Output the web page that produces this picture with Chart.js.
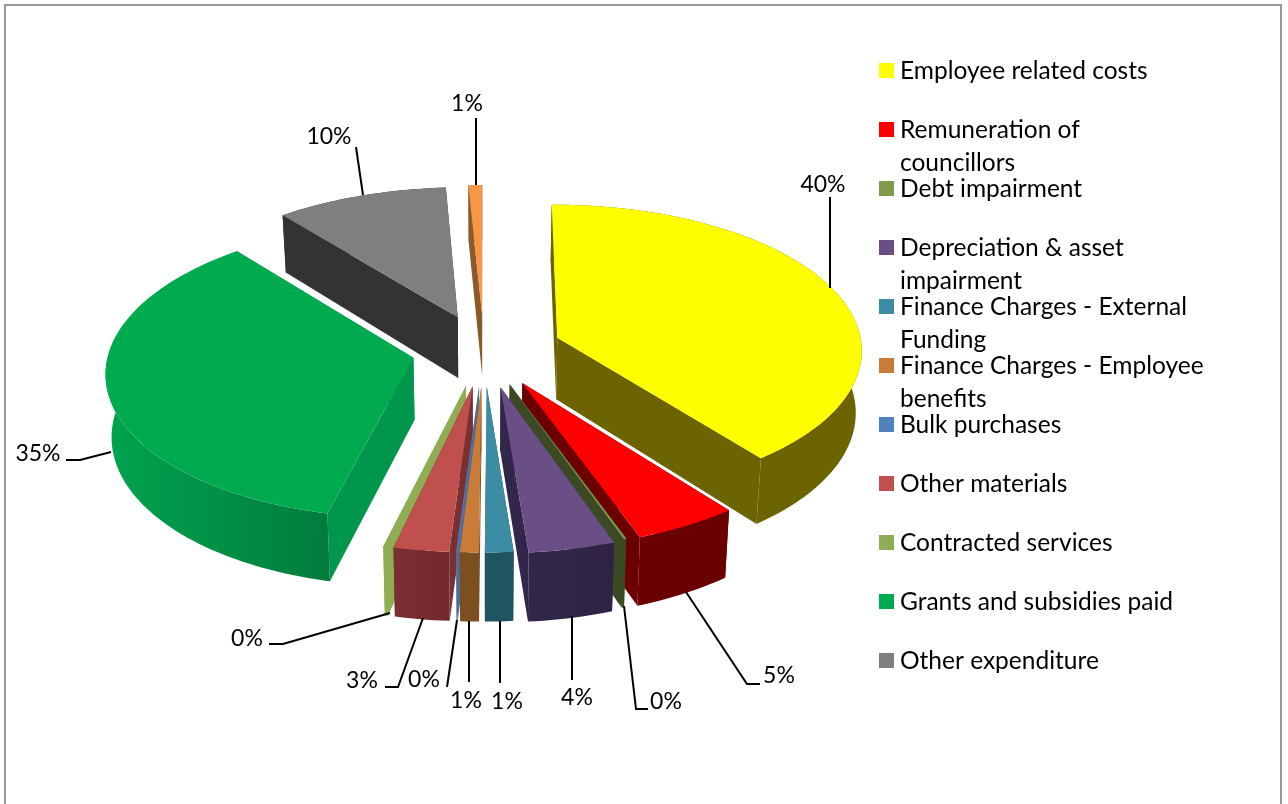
<!DOCTYPE html>
<html>
<head>
<meta charset="utf-8">
<title>Operating expenditure by type</title>
<script src="https://cdn.jsdelivr.net/npm/chart.js@4"></script>
<style>
  html, body { margin: 0; padding: 0; background: #fff; overflow: hidden; }
  canvas { display: block; }
</style>
</head>
<body>
<canvas id="pie" width="1288" height="804"></canvas>
<script>
// Expenditure categories, listed clockwise from twelve o'clock.
const categories = [
  'Employee related costs',
  ['Remuneration of', 'councillors'],
  'Debt impairment',
  ['Depreciation & asset', 'impairment'],
  ['Finance Charges - External', 'Funding'],
  ['Finance Charges - Employee', 'benefits'],
  'Bulk purchases',
  'Other materials',
  'Contracted services',
  'Grants and subsidies paid',
  'Other expenditure',
  ''
];
const shares = [39.5, 5.0, 0.12, 4.13, 1.35, 0.9, 0.05, 2.65, 0.15, 35.35, 10.0, 0.8];
const explode = [78, 78, 75, 78, 75, 75, 75, 75, 75, 72, 75, 75];
const topColors = ['#FFFF00', '#FF0000', '#7F9A48', '#6A4F87', '#3C8DA3', '#C97C39', '#4F81BD', '#C0504D', '#8FAE53', '#00AB50', '#7F7F7F', '#F79646'];
const wallColors = ['#6B6400', '#6B0000', '#3C4A24', '#32264A', '#1E5560', '#7D4E1F', '#4A6E9E', '#7A2F30', '#8FAE53', '#00964B', '#333333', '#8A5A2C'];
const rimStart = ['#6B6400', '#6B0000', '#3C4A24', '#32264A', '#1E5560', '#7D4E1F', '#4A6E9E', '#7A3033', '#8FAE53', '#00A24F', '#333333', '#8A5A2C'];
const rimEnd = ['#6B6400', '#6B0000', '#3C4A24', '#2E2344', '#1E5560', '#7D4E1F', '#4A6E9E', '#73292C', '#8FAE53', '#007C3C', '#333333', '#8A5A2C'];

// Pixel layout of the value labels: text centre, then the leader line.
const labelLayout = [
  { text: [823, 185], leader: [[830, 197], [830, 288]] },
  { text: [779, 676], leader: [[686, 592], [747, 684], [760, 684]] },
  { text: [666, 702], leader: [[624, 606], [636, 709], [648, 709]] },
  { text: [577, 698], leader: [[572, 616], [572, 680]] },
  { text: [507, 702], leader: [[500, 621], [500, 683]] },
  { text: [466, 701], leader: [[469, 621], [469, 682]] },
  { text: [424, 680], leader: [[457, 620], [447, 687]] },
  { text: [362, 681], leader: [[423, 618], [398, 687], [385, 687]] },
  { text: [247, 639], leader: [[390, 613], [283, 644], [269, 644]] },
  { text: [38, 454],  leader: [[111, 452], [80, 460], [66, 460]] },
  { text: [329, 137], leader: [[356, 147], [363, 195]] },
  { text: [467, 104], leader: [[476, 118], [476, 185]] }
];

const VALUE_FONT = '23px Lato, "Open Sans", sans-serif';
const LEGEND_FONT = '24.5px Lato, "Open Sans", sans-serif';
const legendBox = { x: 879, y: 63, size: 15, textX: 900, rowStep: 59, lineStep: 33 };

// Camera used to lay the flat pie onto a tilted, slightly foreshortened table.
const camera = { tilt: 0.478, distance: 3690, roll: 0.005, thickness: 62, taper: 0.016 };

function project(arc, gx, gy, lower) {
  const s = 1 / (1 - gy / camera.distance);
  const x = gx * s * (lower ? 1 - camera.taper : 1);
  const y = camera.tilt * gy * s - camera.roll * gx * s + (lower ? camera.thickness * s : 0);
  return [arc.x + x, arc.y + y];
}

function tracePolygon(ctx, pts) {
  ctx.beginPath();
  pts.forEach((p, i) => (i ? ctx.lineTo(p[0], p[1]) : ctx.moveTo(p[0], p[1])));
  ctx.closePath();
}

// A pie slice drawn as a solid wedge, built from the angles Chart.js computed.
class SolidArc extends Chart.ArcElement {
  static id = 'solidArc';
  draw(ctx) {
    const { startAngle, endAngle, outerRadius, options } = this;
    const mid = (startAngle + endAngle) / 2;
    const ox = Math.cos(mid) * options.offset;
    const oy = Math.sin(mid) * options.offset;
    const steps = Math.max(3, Math.ceil((endAngle - startAngle) * 40));
    const rimTop = [];
    const rimLow = [];
    for (let i = 0; i <= steps; i++) {
      const a = startAngle + (endAngle - startAngle) * i / steps;
      const gx = ox + Math.cos(a) * outerRadius;
      const gy = oy + Math.sin(a) * outerRadius;
      rimTop.push(project(this, gx, gy, false));
      rimLow.push(project(this, gx, gy, true));
    }
    const apexTop = project(this, ox, oy, false);
    const apexLow = project(this, ox, oy, true);
    const idx = this.$context.index;

    // The two straight cut faces go down first, the rim may cover them.
    ctx.fillStyle = wallColors[idx];
    tracePolygon(ctx, [apexTop, rimTop[0], rimLow[0], apexLow]);
    ctx.fill();
    tracePolygon(ctx, [apexTop, rimTop[steps], rimLow[steps], apexLow]);
    ctx.fill();

    // Curved outer wall, shaded along its length.
    const xs = rimLow.map(p => p[0]);
    const grad = ctx.createLinearGradient(Math.min(...xs), 0, Math.max(...xs), 0);
    grad.addColorStop(0, rimStart[idx]);
    grad.addColorStop(1, rimEnd[idx]);
    ctx.fillStyle = grad;
    tracePolygon(ctx, rimTop.concat(rimLow.slice().reverse()));
    ctx.fill();

    // Top face.
    ctx.fillStyle = options.backgroundColor;
    tracePolygon(ctx, [apexTop].concat(rimTop));
    ctx.fill();
  }
}

class SolidPieController extends Chart.PieController {
  static id = 'solidPie';
  static defaults = { dataElementType: 'solidArc' };
  // Paint far slices first so nearer ones overlap them.
  draw() {
    const ctx = this.chart.ctx;
    const arcs = this.getMeta().data.slice();
    const depth = a => Math.sin((a.startAngle + a.endAngle) / 2);
    arcs.sort((p, q) => depth(p) - depth(q));
    arcs.forEach(a => a.draw(ctx));
  }
}
Chart.register(SolidPieController, SolidArc);

// Outer frame, the side legend and the leader-line value labels.
const decorations = {
  id: 'decorations',
  beforeDraw(chart) {
    const ctx = chart.ctx;
    ctx.save();
    ctx.strokeStyle = '#989898';
    ctx.lineWidth = 2;
    ctx.strokeRect(5, 5, 1276, 900);
    ctx.restore();
  },
  afterDraw(chart) {
    const ctx = chart.ctx;
    ctx.save();
    ctx.fillStyle = '#000';
    ctx.textBaseline = 'middle';

    // Legend
    ctx.font = LEGEND_FONT;
    ctx.textAlign = 'left';
    categories.forEach((cat, i) => {
      if (!cat.length) return;
      const y = legendBox.y + i * legendBox.rowStep;
      ctx.fillStyle = topColors[i];
      ctx.fillRect(legendBox.x, y, legendBox.size, legendBox.size);
      ctx.fillStyle = '#000';
      [].concat(cat).forEach((line, n) => {
        ctx.fillText(line, legendBox.textX, y + 8 + n * legendBox.lineStep);
      });
    });

    // Value labels
    const total = shares.reduce((a, b) => a + b, 0);
    ctx.font = VALUE_FONT;
    ctx.textAlign = 'center';
    ctx.strokeStyle = '#000';
    ctx.lineWidth = 2;
    labelLayout.forEach((item, i) => {
      ctx.beginPath();
      item.leader.forEach((p, n) => (n ? ctx.lineTo(p[0], p[1]) : ctx.moveTo(p[0], p[1])));
      ctx.stroke();
      ctx.fillText(Math.round(shares[i] / total * 100) + '%', item.text[0], item.text[1]);
    });
    ctx.restore();
  }
};

new Chart(document.getElementById('pie'), {
  type: 'solidPie',
  data: {
    labels: categories,
    datasets: [{
      data: shares,
      backgroundColor: topColors,
      borderWidth: 0,
      offset: explode
    }]
  },
  options: {
    responsive: false,
    animation: false,
    radius: 305,
    layout: { padding: { left: 0, top: 0, right: 320, bottom: 104 } },
    plugins: { legend: { display: false }, tooltip: { enabled: false } }
  },
  plugins: [decorations]
});
</script>
</body>
</html>
